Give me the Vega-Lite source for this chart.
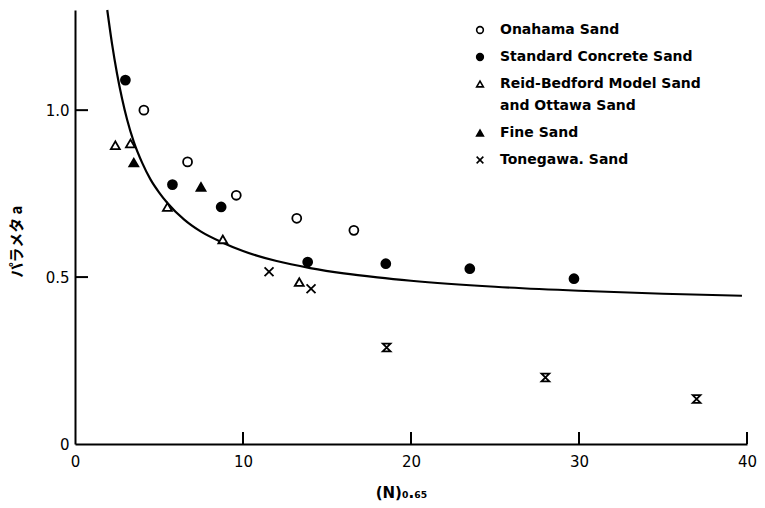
{
  "$schema": "https://vega.github.io/schema/vega-lite/v6.json",
  "width": 672,
  "height": 434,
  "autosize": {"type": "none"},
  "padding": {"left": 75, "top": 10, "right": 18, "bottom": 64},
  "background": "white",
  "config": {
    "view": {"stroke": null},
    "font": "DejaVu Sans",
    "style": {"guide-label": {"lineHeight": 22}},
    "axis": {
      "domainColor": "black", "domainWidth": 2,
      "grid": false, "labelColor": "black", "labelFontSize": 15,
      "labelFont": "DejaVu Sans", "titleColor": "black", "labelFlush": false
    }
  },
  "datasets": {
    "points": [
      {"sand": "Onahama Sand", "n": 4.1, "a": 1.0},
      {"sand": "Onahama Sand", "n": 6.7, "a": 0.845},
      {"sand": "Onahama Sand", "n": 9.6, "a": 0.745},
      {"sand": "Onahama Sand", "n": 13.2, "a": 0.676},
      {"sand": "Onahama Sand", "n": 16.6, "a": 0.64},
      {"sand": "Standard Concrete Sand", "n": 3.0, "a": 1.09},
      {"sand": "Standard Concrete Sand", "n": 5.8, "a": 0.777},
      {"sand": "Standard Concrete Sand", "n": 8.7, "a": 0.71},
      {"sand": "Standard Concrete Sand", "n": 13.85, "a": 0.545},
      {"sand": "Standard Concrete Sand", "n": 18.5, "a": 0.54},
      {"sand": "Standard Concrete Sand", "n": 23.5, "a": 0.525},
      {"sand": "Standard Concrete Sand", "n": 29.7, "a": 0.495},
      {"sand": "Reid-Bedford Model Sand and Ottawa Sand", "n": 2.4, "a": 0.895},
      {"sand": "Reid-Bedford Model Sand and Ottawa Sand", "n": 3.3, "a": 0.90},
      {"sand": "Reid-Bedford Model Sand and Ottawa Sand", "n": 5.5, "a": 0.71},
      {"sand": "Reid-Bedford Model Sand and Ottawa Sand", "n": 8.8, "a": 0.613},
      {"sand": "Reid-Bedford Model Sand and Ottawa Sand", "n": 13.35, "a": 0.485},
      {"sand": "Fine Sand", "n": 3.5, "a": 0.843},
      {"sand": "Fine Sand", "n": 7.5, "a": 0.77},
      {"sand": "Tonegawa. Sand", "n": 11.55, "a": 0.516},
      {"sand": "Tonegawa. Sand", "n": 14.05, "a": 0.465}
    ],
    "hourglass": [
      {"n": 18.55, "a": 0.289},
      {"n": 28.0, "a": 0.199},
      {"n": 37.0, "a": 0.135}
    ],
    "xticks": [{"n": 10, "a": 0}, {"n": 20, "a": 0}, {"n": 30, "a": 0}, {"n": 40, "a": 0}],
    "yticks": [{"n": 0, "a": 0.5}, {"n": 0, "a": 1.0}],
    "curve": [
      {"n": 1.92, "a": 1.30},
      {"n": 2.2, "a": 1.20},
      {"n": 2.5, "a": 1.11},
      {"n": 2.8, "a": 1.035},
      {"n": 3.1, "a": 0.972},
      {"n": 3.5, "a": 0.905},
      {"n": 4.0, "a": 0.842},
      {"n": 4.5, "a": 0.792},
      {"n": 5.0, "a": 0.754},
      {"n": 5.5, "a": 0.722},
      {"n": 6.5, "a": 0.672},
      {"n": 7.5, "a": 0.636},
      {"n": 8.8, "a": 0.603},
      {"n": 10, "a": 0.578},
      {"n": 12, "a": 0.548},
      {"n": 14, "a": 0.527},
      {"n": 16, "a": 0.511},
      {"n": 18, "a": 0.499},
      {"n": 20, "a": 0.489},
      {"n": 25, "a": 0.471},
      {"n": 30, "a": 0.459},
      {"n": 35, "a": 0.45},
      {"n": 39.7, "a": 0.444}
    ]
  },
  "layer": [
    {
      "data": {"name": "curve"},
      "mark": {"type": "line", "color": "black", "strokeWidth": 2.2, "interpolate": "monotone"},
      "encoding": {
        "x": {"field": "n", "type": "quantitative",
          "scale": {"domain": [0, 40], "nice": false, "zero": false},
          "axis": {"values": [0, 10, 20, 30, 40], "ticks": false, "labelPadding": 10, "title": "(N)₀.₆₅",
            "titleFontSize": 15, "titleFontWeight": "bold", "titlePadding": 16, "titleX": 326, "titleAlign": "center"}},
        "y": {"field": "a", "type": "quantitative",
          "scale": {"domain": [0, 1.3], "nice": false, "zero": false},
          "axis": {"values": [0, 0.5, 1.0], "ticks": false, "labelPadding": 6,
            "labelExpr": "datum.value == 0 ? '0' : format(datum.value, '.1f')",
            "title": "パラメタ a", "titleFont": "Noto Sans CJK JP", "titleFontSize": 15,
            "titleFontWeight": "bold", "titleX": -59, "titleY": 231, "titleAngle": -90, "titleAlign": "center", "titleBaseline": "middle"}}
      }
    },
    {
      "data": {"name": "points"},
      "mark": {"type": "point", "filled": false, "strokeWidth": 1.8, "size": 80, "opacity": 1},
      "encoding": {
        "x": {"field": "n", "type": "quantitative"},
        "y": {"field": "a", "type": "quantitative"},
        "shape": {"field": "sand", "type": "nominal",
          "scale": {
            "domain": ["Onahama Sand", "Standard Concrete Sand", "Reid-Bedford Model Sand and Ottawa Sand", "Fine Sand", "Tonegawa. Sand"],
            "range": ["circle", "circle", "triangle-up", "triangle-up", "M-1,-1L1,1M-1,1L1,-1"]
          },
          "legend": {
            "orient": "none", "legendX": 398, "legendY": 13, "title": null,
            "symbolSize": 45, "symbolStrokeWidth": 1.6,
            "labelFont": "DejaVu Sans", "labelFontSize": 14, "labelFontWeight": "bold", "labelColor": "black",
            "labelOffset": 13, "rowPadding": 13, "labelLimit": 300,
            "labelExpr": "datum.label == 'Reid-Bedford Model Sand and Ottawa Sand' ? ['Reid-Bedford Model Sand', 'and Ottawa Sand'] : datum.label"
          }
        },
        "fill": {"field": "sand", "type": "nominal",
          "scale": {
            "domain": ["Onahama Sand", "Standard Concrete Sand", "Reid-Bedford Model Sand and Ottawa Sand", "Fine Sand", "Tonegawa. Sand"],
            "range": ["white", "black", "white", "black", "white"]
          }
        },
        "stroke": {"field": "sand", "type": "nominal",
          "scale": {
            "domain": ["Onahama Sand", "Standard Concrete Sand", "Reid-Bedford Model Sand and Ottawa Sand", "Fine Sand", "Tonegawa. Sand"],
            "range": ["black", "black", "black", "black", "black"]
          }
        }
      }
    },
    {
      "data": {"name": "hourglass"},
      "mark": {"type": "point", "shape": "M-1,-1L1,-1L-1,1L1,1Z", "filled": false, "stroke": "black", "strokeWidth": 1.8, "size": 60, "opacity": 1},
      "encoding": {
        "x": {"field": "n", "type": "quantitative"},
        "y": {"field": "a", "type": "quantitative"}
      }
    },
    {
      "data": {"name": "xticks"},
      "mark": {"type": "tick", "orient": "vertical", "color": "black", "size": 12, "thickness": 2, "yOffset": -6, "opacity": 1},
      "encoding": {
        "x": {"field": "n", "type": "quantitative"},
        "y": {"field": "a", "type": "quantitative"}
      }
    },
    {
      "data": {"name": "yticks"},
      "mark": {"type": "tick", "orient": "horizontal", "color": "black", "size": 13, "thickness": 2, "xOffset": 6.5, "opacity": 1},
      "encoding": {
        "x": {"field": "n", "type": "quantitative"},
        "y": {"field": "a", "type": "quantitative"}
      }
    }
  ]
}
